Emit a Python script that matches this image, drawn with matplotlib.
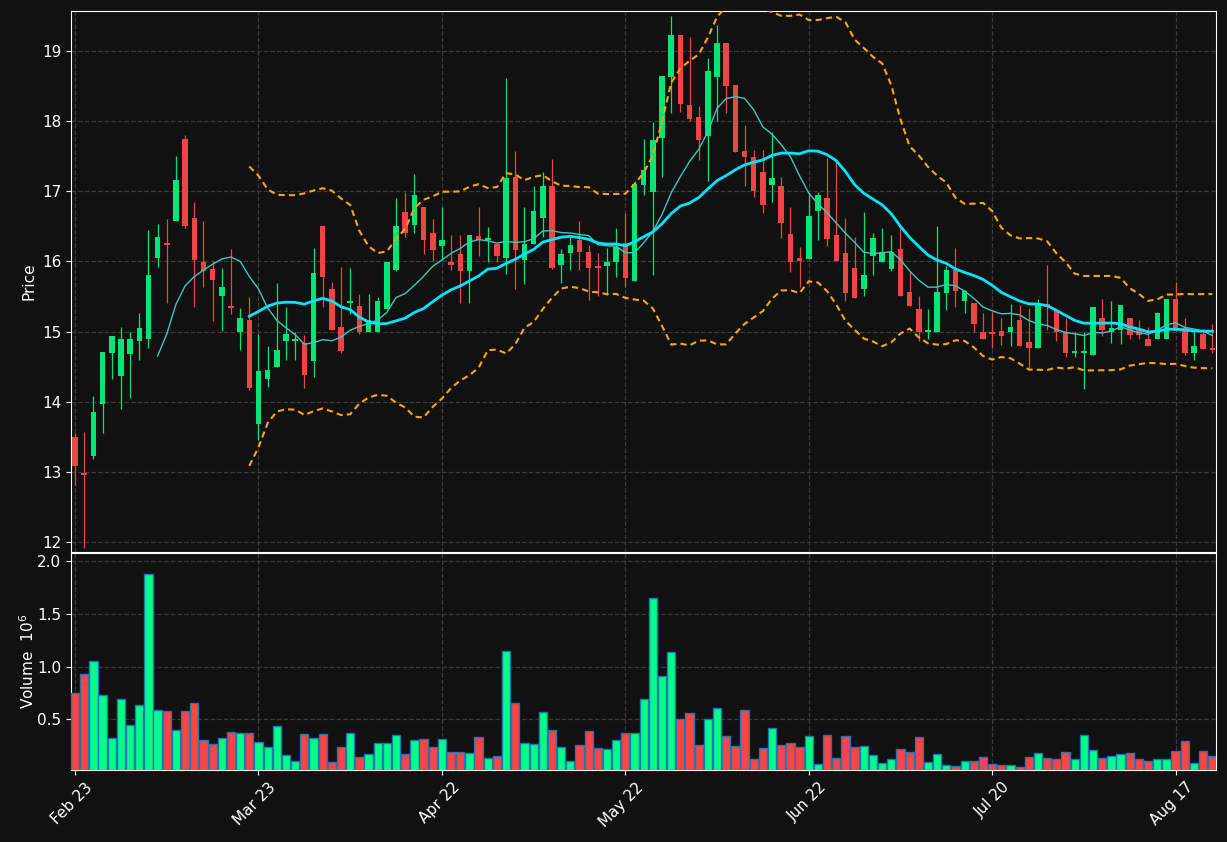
import numpy as np
import pandas as pd
import matplotlib
matplotlib.use("Agg")
import matplotlib.pyplot as plt
from matplotlib.transforms import ScaledTranslation

tick_labels = ["Feb 23", "Mar 23", "Apr 22", "May 22", "Jun 22", "Jul 20", "Aug 17"]

opens = [13.50,12.97,13.22,13.96,14.70,14.36,14.68,14.86,14.89,16.05,16.25,16.57,17.75,16.62,15.99,15.89,15.50,15.36,15.00,15.17,
         13.68,14.33,14.50,14.86,14.86,14.83,14.58,16.50,15.61,15.06,15.40,15.36,14.99,14.99,15.32,15.88,16.70,16.52,16.78,16.41,
         16.22,15.99,16.10,15.87,16.36,16.30,16.25,16.05,17.20,16.02,16.25,16.62,17.07,15.95,16.12,16.30,16.13,15.91,15.93,15.99,
         16.26,15.72,17.09,16.99,17.76,18.63,19.23,18.23,18.06,17.79,18.63,19.11,18.52,17.57,17.49,17.28,17.09,17.08,16.39,16.05,
         16.03,16.72,16.90,16.38,16.12,15.91,15.61,16.08,15.996,15.89,16.18,15.56,15.32,14.99,15.00,15.555,15.88,15.43,15.40,14.99,
         14.98,15.01,14.999,15.17,14.85,14.76,15.39,15.30,15.00,14.69,14.69,14.67,15.20,14.999,15.02,15.19,15.02,14.89,14.90,14.90,
         15.47,15.05,14.70,14.96,14.76]
closes = [13.09,12.95,13.85,14.71,14.94,14.89,14.89,15.05,15.80,16.35,16.23,17.16,16.50,16.02,15.87,15.73,15.63,15.33,15.19,14.19,
          14.44,14.45,14.74,14.96,14.89,14.38,15.83,15.78,15.02,14.72,15.42,14.99,15.17,15.43,15.99,16.50,16.40,16.95,16.30,16.16,
          16.30,15.95,15.87,16.37,16.30,16.34,16.07,17.19,16.16,16.25,16.72,17.07,15.91,16.10,16.23,16.14,15.91,15.90,15.99,16.20,
          15.77,17.10,17.30,17.73,18.64,19.23,18.24,18.03,17.73,18.71,19.11,18.50,17.56,17.49,17.00,16.80,17.19,16.55,15.997,16.00,
          16.65,16.95,16.32,16.01,15.555,15.48,15.80,16.34,16.13,16.14,15.50,15.36,15.00,15.02,15.56,15.88,15.58,15.58,15.11,14.90,
          14.96,14.94,15.06,14.80,14.76,15.40,15.35,15.00,14.70,14.71,14.72,15.35,15.02,15.05,15.38,14.95,14.95,14.80,15.26,15.47,
          15.01,14.70,14.79,14.75,14.74]
highs = [13.55,13.57,14.08,14.71,14.94,15.06,15.00,15.26,16.45,16.54,16.60,17.50,17.80,16.84,16.57,16.00,15.90,16.18,15.33,15.49,
         14.96,14.80,15.69,15.35,14.99,14.95,16.19,16.50,15.70,15.92,15.91,15.54,15.54,15.49,15.99,16.90,16.99,17.25,16.78,16.60,
         16.78,16.38,16.37,16.37,16.77,16.49,16.25,18.61,17.57,16.77,17.07,17.28,17.46,16.17,16.35,16.57,16.23,16.12,16.19,16.47,
         16.69,17.15,17.74,17.98,18.64,19.50,19.23,19.20,18.21,18.90,19.37,19.11,18.52,17.94,17.59,17.59,17.85,17.21,16.78,16.20,
         16.97,16.99,17.48,17.41,16.62,16.35,16.71,16.40,16.48,16.38,16.47,15.85,15.50,15.32,16.50,15.93,16.19,15.59,15.40,15.27,
         15.28,15.19,15.39,15.38,15.33,15.46,15.95,15.30,15.19,15.00,15.00,15.35,15.47,15.44,15.38,15.19,15.16,15.07,15.28,15.47,
         15.70,15.19,15.00,15.03,15.11]
lows = [12.81,11.91,13.19,13.56,14.33,13.89,14.05,14.60,14.76,15.92,15.40,16.57,16.48,15.35,15.64,15.15,15.01,15.25,14.74,14.16,
        13.45,14.21,14.50,14.60,14.60,14.19,14.35,15.35,15.02,14.70,15.25,14.96,14.99,14.99,15.32,15.87,16.35,16.40,16.11,16.01,
        16.02,15.88,15.40,15.40,16.07,15.99,15.99,15.82,15.60,15.68,16.25,16.35,15.89,15.69,15.88,15.88,15.45,15.50,15.52,15.78,
        15.64,15.72,16.95,15.80,17.21,18.11,18.13,18.00,17.45,17.14,18.00,18.11,17.56,17.07,16.92,16.69,16.85,16.33,15.85,15.64,
        16.03,16.31,16.22,16.01,15.44,15.48,15.50,15.81,15.996,15.87,15.50,15.36,14.86,14.89,15.00,15.31,15.35,15.26,15.00,14.90,
        14.76,14.81,14.80,14.80,14.48,14.76,15.02,14.86,14.63,14.63,14.18,14.67,14.94,14.84,14.82,14.90,14.89,14.80,14.90,14.90,
        15.01,14.67,14.60,14.75,14.69]
volumes = [0.754,0.934,1.057,0.726,0.319,0.697,0.442,0.631,1.88,0.584,0.574,0.394,0.574,0.659,0.300,0.262,0.319,0.375,0.366,0.366,
           0.281,0.233,0.432,0.158,0.101,0.356,0.319,0.356,0.091,0.233,0.366,0.139,0.167,0.271,0.271,0.347,0.167,0.300,0.309,0.233,
           0.309,0.186,0.186,0.177,0.328,0.129,0.148,1.151,0.650,0.271,0.262,0.565,0.394,0.233,0.101,0.252,0.385,0.224,0.215,0.300,
           0.366,0.366,0.688,1.653,0.915,1.142,0.498,0.555,0.252,0.498,0.603,0.338,0.243,0.584,0.120,0.224,0.413,0.252,0.271,0.233,
           0.338,0.073,0.347,0.129,0.338,0.233,0.243,0.158,0.082,0.120,0.215,0.186,0.328,0.091,0.167,0.063,0.054,0.101,0.101,0.139,
           0.073,0.063,0.063,0.044,0.139,0.177,0.129,0.120,0.186,0.120,0.347,0.205,0.129,0.148,0.167,0.177,0.120,0.101,0.120,0.120,
           0.196,0.290,0.082,0.196,0.148]

o = np.array(opens); c = np.array(closes); h = np.array(highs); l = np.array(lows); v = np.array(volumes)
n = len(c)
x = np.arange(n)
up = c >= o

cs = pd.Series(c)
ma10 = cs.rolling(10).mean()
ma20 = cs.rolling(20).mean()
sd20 = cs.rolling(20).std(ddof=0)
bb_up = ma20 + 2 * sd20
bb_lo = ma20 - 2 * sd20

BG = "#111111"
GREEN = "#00e676"
RED = "#ef4444"
VGREEN = "#00ff88"
VRED = "#ff4444"

fig = plt.figure(figsize=(12.27, 8.42), dpi=100, facecolor=BG)
L, R = 0.0579, 0.991
ax = fig.add_axes([L, 0.3444, R - L, 0.987 - 0.3444], facecolor=BG)
axv = fig.add_axes([L, 0.0855, R - L, 0.3432 - 0.0855], facecolor=BG, sharex=ax)

for a in (ax, axv):
    a.grid(True, color="#3a3a3a", linestyle="--", linewidth=0.9)
    a.set_axisbelow(True)
    for s in a.spines.values():
        s.set_color("white")
    a.tick_params(colors="white", labelsize=11)

cols = np.where(up, GREEN, RED)
ax.vlines(x, l, h, colors=cols, linewidth=0.9, zorder=2)
body_b = np.minimum(o, c)
body_h = np.maximum(np.abs(c - o), 0.03)
ax.bar(x, body_h, bottom=body_b, width=0.6, color=cols, zorder=3, linewidth=0)

ax.plot(x, ma10, color="#3cc8c0", linewidth=1.0, zorder=4)
ax.plot(x, ma20, color="#00e5ff", linewidth=2.0, zorder=4)
ax.plot(x, bb_up, color="#ffa500", linewidth=1.5, linestyle=(0, (3, 2)), zorder=4)
ax.plot(x, bb_lo, color="#ffa500", linewidth=1.5, linestyle=(0, (3, 2)), zorder=4)

ax.set_ylim(11.857, 19.57)
ax.set_yticks([12, 13, 14, 15, 16, 17, 18, 19])
ax.set_ylabel("Price", color="white", fontsize=11)
ax.tick_params(axis="x", labelbottom=False)

vcols = np.where(up, VGREEN, VRED)
axv.bar(x, v, width=0.9, color=vcols, edgecolor="#1f77b4", linewidth=1.0, zorder=3)
axv.set_ylim(0.018, 2.079)
axv.set_yticks([0.5, 1.0, 1.5, 2.0])
axv.set_yticklabels(["0.5", "1.0", "1.5", "2.0"])
axv.set_ylabel("Volume  $10^6$", color="white", fontsize=11)

axv.set_xlim(-0.44, 124.4)
axv.set_xticks(np.arange(0, n, 20))
axv.set_xticklabels(tick_labels, rotation=45, ha="right", rotation_mode="anchor")
offset = ScaledTranslation(0.1, 0, fig.dpi_scale_trans)
for t in axv.get_xticklabels():
    t.set_transform(t.get_transform() + offset)

ax.yaxis.set_label_coords(-0.03, 0.5)
axv.yaxis.set_label_coords(-0.03, 0.5)

fig.savefig("out.png", dpi=100, facecolor=BG)
